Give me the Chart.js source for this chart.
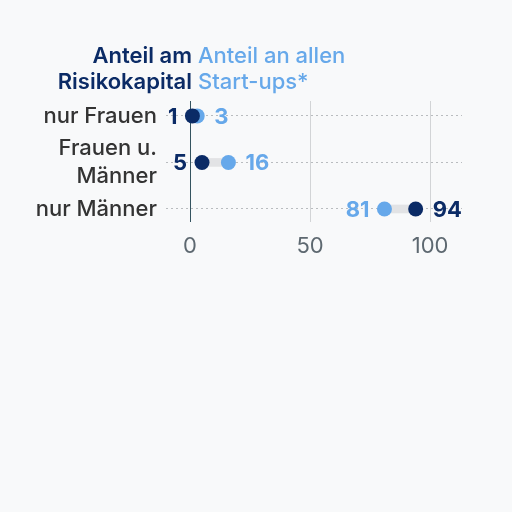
<!DOCTYPE html>
<html>
<head>
<meta charset="utf-8">
<script src="https://cdn.jsdelivr.net/npm/chart.js@4"></script>
<style>
html,body{margin:0;padding:0;background:#f8f9fa;}
#wrap{width:512px;height:512px;position:relative;}
</style>
</head>
<body>
<div id="wrap"><canvas id="c" width="512" height="512"></canvas></div>
<script>
const categories = ["nur Frauen", ["Frauen u.", "Männer"], "nur Männer"];
const risikokapital = [1, 5, 94];
const startups = [3, 16, 81];
const xTicks = [0, 50, 100];
const headerDark = ["Anteil am", "Risikokapital"];
const headerLight = ["Anteil an allen", "Start-ups*"];

const DARK = "#0b2b66";
const LIGHT = "#66a8ea";
const FONT = "Inter";

const labelPlugin = {
  id: "vals",
  afterDatasetsDraw(chart) {
    const ctx = chart.ctx, xs = chart.scales.x, ys = chart.scales.y;
    ctx.save();
    ctx.font = "700 22px " + FONT;
    ctx.textBaseline = "middle";
    categories.forEach((c, i) => {
      const a = risikokapital[i], b = startups[i];
      const y = ys.getPixelForValue(i) + 1;
      const lo = Math.min(a, b), hi = Math.max(a, b);
      const loCol = a <= b ? DARK : LIGHT, hiCol = a <= b ? LIGHT : DARK;
      ctx.textAlign = "right"; ctx.fillStyle = loCol;
      ctx.fillText(String(lo), xs.getPixelForValue(lo) - 15, y);
      ctx.textAlign = "left"; ctx.fillStyle = hiCol;
      ctx.fillText(String(hi), xs.getPixelForValue(hi) + 17, y);
    });
    // headers
    const x0 = xs.getPixelForValue(0);
    ctx.font = "600 22px " + FONT;
    ctx.textBaseline = "alphabetic";
    headerDark.forEach((t, k) => { ctx.textAlign = "right"; ctx.fillStyle = DARK; ctx.fillText(t, x0 + 2, 63 + k * 26); });
    ctx.font = "500 22px " + FONT;
    headerLight.forEach((t, k) => { ctx.textAlign = "left"; ctx.fillStyle = LIGHT; ctx.fillText(t, x0 + 8, 63 + k * 26); });
    ctx.restore();
  }
};

new Chart(document.getElementById("c"), {
  type: "bar",
  data: {
    datasets: [
      {
        type: "bar",
        data: categories.map((c, i) => ({ y: i, x: [Math.min(risikokapital[i], startups[i]), Math.max(risikokapital[i], startups[i])] })),
        backgroundColor: "#e2e3e5",
        barThickness: 8,
        borderSkipped: false,
        order: 3
      },
      {
        type: "scatter",
        data: startups.map((v, i) => ({ x: v, y: i })),
        backgroundColor: LIGHT, borderColor: LIGHT,
        pointRadius: 7.5, pointHoverRadius: 7.5, borderWidth: 0,
        order: 2
      },
      {
        type: "scatter",
        data: risikokapital.map((v, i) => ({ x: v, y: i })),
        backgroundColor: DARK, borderColor: DARK,
        pointRadius: 7.5, pointHoverRadius: 7.5, borderWidth: 0,
        order: 1
      }
    ]
  },
  options: {
    indexAxis: "y",
    responsive: false,
    animation: false,
    events: [],
    layout: { padding: { top: 101, right: 50, left: 0, bottom: 250 } },
    plugins: { legend: { display: false }, tooltip: { enabled: false } },
    scales: {
      x: {
        type: "linear", min: -10, max: 113.3,
        afterBuildTicks: s => { s.ticks = xTicks.map(v => ({ value: v })); },
        afterFit: s => { s.height = 40; },
        grid: { drawTicks: false, color: ctx => (ctx.tick && ctx.tick.value === 0) ? "#34535f" : "#d2d4d6", lineWidth: 1 },
        border: { display: false },
        ticks: { padding: 11, color: "#5d6870", font: { family: FONT, size: 22, weight: 400 } }
      },
      y: {
        type: "linear", reverse: true, min: -0.32, max: 2.28, offset: false,
        afterBuildTicks: s => { s.ticks = categories.map((c, i) => ({ value: i })); },
        afterFit: s => { s.width = 166; },
        grid: { offset: false, drawTicks: false, color: "#b9bcbf", lineWidth: 1 },
        border: { display: false, dash: [2, 3] },
        ticks: {
          padding: 9, color: "#333333", font: { family: FONT, size: 22, weight: 500, lineHeight: 1.3 },
          callback: v => categories[v]
        }
      }
    }
  },
  plugins: [labelPlugin]
});
</script>
</body>
</html>
